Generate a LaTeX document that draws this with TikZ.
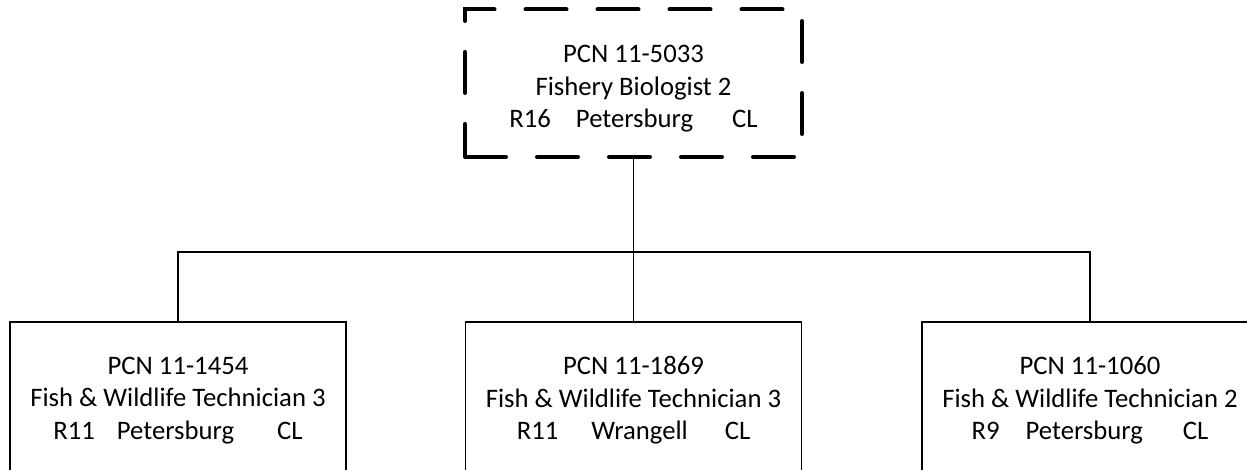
\documentclass[tikz,border=0pt]{standalone}
\usepackage{fontspec}
\setmainfont{Carlito}
\begin{document}
\begin{tikzpicture}[x=1pt,y=-1pt,
  txt/.style={align=center,font=\fontsize{26.7}{32.5}\selectfont,text=black,inner sep=0pt},
  headbox/.style={draw=black,line width=4pt,dash pattern=on 41pt off 31pt,line cap=round,
    minimum width=337pt,minimum height=147.5pt,outer sep=0pt,inner sep=0pt},
  staffbox/.style={draw=black,line width=1.2pt,minimum width=336pt,minimum height=150pt,outer sep=0pt,inner sep=0pt},
  conn/.style={draw=black,line width=1.2pt}]
\clip (0,0) rectangle (1247,470);
\fill[white] (0,0) rectangle (1247,470);
\node[headbox] (top) at (633.5,83.25) {};
\node[staffbox] (b1) at (178,397) {};
\node[staffbox] (b2) at (633.5,397) {};
\node[staffbox] (b3) at (1090,397) {};
\node[txt] (toptxt) at ([yshift=-5.5pt]top.center) {PCN 11-5033\\Fishery Biologist 2\\R16\hspace{25pt}Petersburg\hspace{39pt}CL};
\node[txt] (b1txt) at ([yshift=-3.5pt]b1.center) {PCN 11-1454\\Fish \& Wildlife Technician 3\\R11\hspace{22pt}Petersburg\hspace{43pt}CL};
\node[txt] (b2txt) at ([yshift=-3.5pt]b2.center) {PCN 11-1869\\Fish \& Wildlife Technician 3\\R11\hspace{33pt}Wrangell\hspace{37pt}CL};
\node[txt] (b3txt) at ([yshift=-3.5pt]b3.center) {PCN 11-1060\\Fish \& Wildlife Technician 2\\R9\hspace{26pt}Petersburg\hspace{40pt}CL};
\coordinate (bus) at (633.5,252);
\draw[conn] (top.south) -- (top.south |- bus);
\draw[conn] (b1.north) |- (b3.north |- bus) -- (b3.north);
\draw[conn] (b2.north) -- (b2.north |- bus);
\end{tikzpicture}
\end{document}
